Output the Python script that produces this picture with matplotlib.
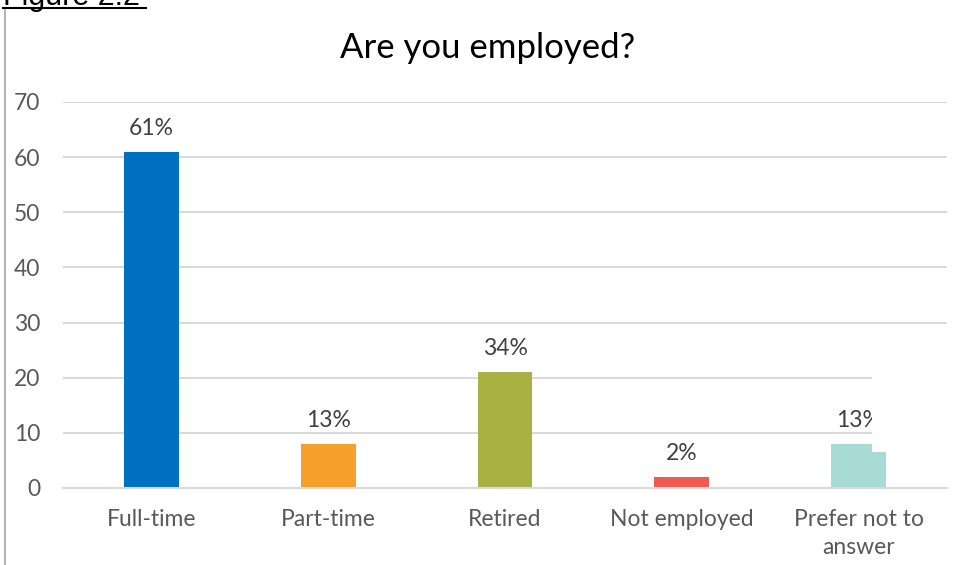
import matplotlib.pyplot as plt
from matplotlib.lines import Line2D
from matplotlib.patches import Rectangle

plt.rcParams["font.family"] = ["Lato", "DejaVu Sans"]

categories = ["Full-time", "Part-time", "Retired", "Not employed", "Prefer not to\nanswer"]
counts = [61, 8, 21, 2, 8]
pct_labels = ["61%", "13%", "34%", "2%", "13%"]
colors = ["#0070C0", "#F4A02A", "#A9B142", "#EF5B50", "#A8DAD6"]
yticks = [0, 10, 20, 30, 40, 50, 60, 70]

W, H = 955, 565
fig = plt.figure(figsize=(W / 100, H / 100), dpi=100)
ax = fig.add_axes([63 / W, 1 - 488 / H, 884 / W, 386 / H])

bars = ax.bar(range(len(categories)), counts, width=0.31, color=colors, zorder=3)
for b, lab in zip(bars, pct_labels):
    ax.annotate(lab, (b.get_x() + b.get_width() / 2, b.get_height()),
                xytext=(0, 17), textcoords="offset points",
                ha="center", va="center", fontsize=16.5, color="#404040")

ax.set_xlim(-0.5, len(categories) - 0.5)
ax.set_ylim(0, 70)
ax.set_yticks(yticks)
ax.set_xticks(range(len(categories)))
ax.set_xticklabels(categories, fontsize=16.5, color="#595959", linespacing=1.45)
ax.tick_params(axis="y", labelsize=16.5, labelcolor="#595959", length=0, pad=16.5)
ax.tick_params(axis="x", length=0, pad=15)
ax.grid(axis="y", color="#D9D9D9", linewidth=1.5, zorder=0)
for s in ["top", "right", "left"]:
    ax.spines[s].set_visible(False)
ax.spines["bottom"].set_color("#D9D9D9")
ax.spines["bottom"].set_linewidth(1.5)
ax.spines["bottom"].set_zorder(4)

fig.text(488 / W, 1 - 48 / H, "Are you employed?", ha="center", va="center",
         fontsize=25, color="#000000")

# caption cut off at the top edge, with its underline
fig.text(3 / W, 1 - 5 / H, "Figure 2.2", ha="left", va="baseline",
         fontsize=22, family=["Liberation Sans"], color="#000000")
fig.add_artist(Line2D([3 / W, 146 / W], [1 - 8 / H, 1 - 8 / H],
                      color="#000000", linewidth=1.5))
# frame line on the left
fig.add_artist(Line2D([4.5 / W, 4.5 / W], [0, 1 - 10 / H],
                      color="#A6A6A6", linewidth=1.2))
# white block lying over the last category
fig.add_artist(Rectangle((872 / W, 1 - 452 / H), 90 / W, 112 / H,
                         facecolor="white", edgecolor="none", zorder=5))

fig.savefig("out.png", dpi=100)
